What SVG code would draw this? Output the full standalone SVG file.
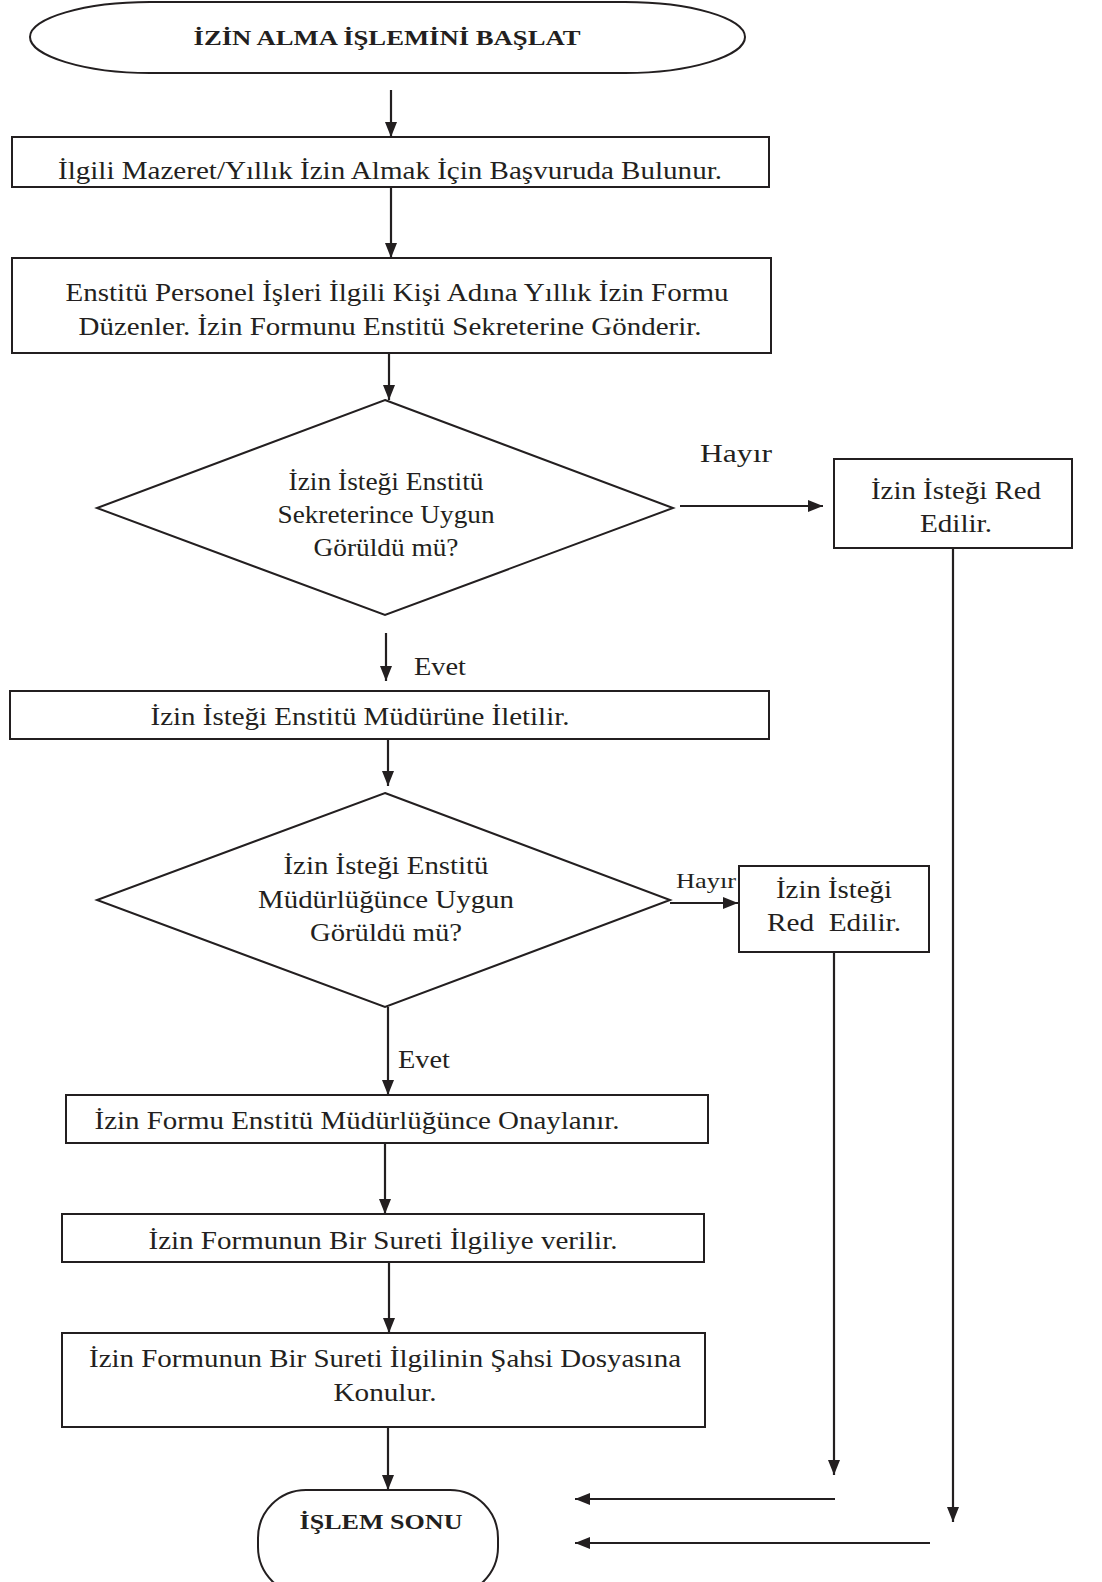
<svg xmlns="http://www.w3.org/2000/svg" width="1102" height="1582" viewBox="0 0 1102 1582">
<defs>
<marker id="ah" markerUnits="userSpaceOnUse" markerWidth="16" markerHeight="14" refX="15" refY="7" orient="auto">
<path d="M0,1 L15,7 L0,13 z" fill="#231f20"/>
</marker>
<style>
.s{fill:#fff;stroke:#231f20;stroke-width:2}
.c{fill:none;stroke:#231f20;stroke-width:2.2;marker-end:url(#ah)}
text{font-family:"Liberation Serif","Times New Roman",serif;fill:#231f20;font-size:25px;text-anchor:middle}
.b{font-weight:bold;font-size:21px}
</style>
</defs>
<rect width="1102" height="1582" fill="#fff"/>
<g id="connectors">
<line class="c" x1="391" y1="90" x2="391" y2="137"/>
<line class="c" x1="391" y1="187" x2="391" y2="258"/>
<line class="c" x1="389" y1="353" x2="389" y2="400"/>
<line class="c" x1="680" y1="506" x2="823" y2="506"/>
<line class="c" x1="953" y1="548" x2="953" y2="1522"/>
<line class="c" x1="386" y1="633" x2="386" y2="681"/>
<line class="c" x1="388" y1="739" x2="388" y2="786"/>
<line class="c" x1="670" y1="903" x2="738" y2="903"/>
<line class="c" x1="834" y1="952" x2="834" y2="1475"/>
<line class="c" x1="388" y1="1007" x2="388" y2="1095"/>
<line class="c" x1="385" y1="1143" x2="385" y2="1214"/>
<line class="c" x1="389" y1="1262" x2="389" y2="1333"/>
<line class="c" x1="388" y1="1427" x2="388" y2="1490"/>
<line class="c" x1="835" y1="1499" x2="575" y2="1499"/>
<line class="c" x1="930" y1="1543" x2="575" y2="1543"/>
<text x="736" y="462" style="font-size:26px" textLength="72" lengthAdjust="spacingAndGlyphs">Hayır</text>
<text x="440" y="675" textLength="52" lengthAdjust="spacingAndGlyphs">Evet</text>
<text x="706" y="888" style="font-size:22px" textLength="60" lengthAdjust="spacingAndGlyphs">Hayır</text>
<text x="424" y="1068" textLength="52" lengthAdjust="spacingAndGlyphs">Evet</text>
</g>
<g id="start">
<path class="s" d="M150,2 L625,2 C690,2 745,18 745,37 C745,56 690,73 625,73 L150,73 C85,73 30,56 30,37 C30,18 85,2 150,2 Z"/>
<text class="b" x="387" y="45" textLength="387" lengthAdjust="spacingAndGlyphs">İZİN ALMA İŞLEMİNİ BAŞLAT</text>
</g>
<g id="n1">
<rect class="s" x="12" y="137" width="757" height="50"/>
<text x="390" y="179" textLength="664" lengthAdjust="spacingAndGlyphs">İlgili Mazeret/Yıllık İzin Almak İçin Başvuruda Bulunur.</text>
</g>
<g id="n2">
<rect class="s" x="12" y="258" width="759" height="95"/>
<text x="397" y="301" textLength="663" lengthAdjust="spacingAndGlyphs">Enstitü Personel İşleri İlgili Kişi Adına Yıllık İzin Formu</text>
<text x="390" y="335" textLength="623" lengthAdjust="spacingAndGlyphs">Düzenler. İzin Formunu Enstitü Sekreterine Gönderir.</text>
</g>
<g id="d1">
<polygon class="s" points="385,400 673,508 385,615 97,508"/>
<text x="386" y="490" textLength="195" lengthAdjust="spacingAndGlyphs">İzin İsteği Enstitü</text>
<text x="386" y="523" textLength="217" lengthAdjust="spacingAndGlyphs">Sekreterince Uygun</text>
<text x="386" y="556" textLength="145" lengthAdjust="spacingAndGlyphs">Görüldü mü?</text>
</g>
<g id="red1">
<rect class="s" x="834" y="459" width="238" height="89"/>
<text x="956" y="499" textLength="170" lengthAdjust="spacingAndGlyphs">İzin İsteği Red</text>
<text x="956" y="532" textLength="72" lengthAdjust="spacingAndGlyphs">Edilir.</text>
</g>
<g id="n3">
<rect class="s" x="10" y="691" width="759" height="48"/>
<text x="360" y="725" textLength="419" lengthAdjust="spacingAndGlyphs">İzin İsteği Enstitü Müdürüne İletilir.</text>
</g>
<g id="d2">
<polygon class="s" points="385,793 670,900 385,1007 97,900"/>
<text x="386" y="874" textLength="205" lengthAdjust="spacingAndGlyphs">İzin İsteği Enstitü</text>
<text x="386" y="908" textLength="256" lengthAdjust="spacingAndGlyphs">Müdürlüğünce Uygun</text>
<text x="386" y="941" textLength="152" lengthAdjust="spacingAndGlyphs">Görüldü mü?</text>
</g>
<g id="red2">
<rect class="s" x="739" y="866" width="190" height="86"/>
<text x="834" y="898" textLength="116" lengthAdjust="spacingAndGlyphs">İzin İsteği</text>
<text x="834" y="931" textLength="134" lengthAdjust="spacingAndGlyphs" xml:space="preserve">Red  Edilir.</text>
</g>
<g id="n4">
<rect class="s" x="66" y="1095" width="642" height="48"/>
<text x="357" y="1129" textLength="525" lengthAdjust="spacingAndGlyphs">İzin Formu Enstitü Müdürlüğünce Onaylanır.</text>
</g>
<g id="n5">
<rect class="s" x="62" y="1214" width="642" height="48"/>
<text x="383" y="1249" textLength="469" lengthAdjust="spacingAndGlyphs">İzin Formunun Bir Sureti İlgiliye verilir.</text>
</g>
<g id="n6">
<rect class="s" x="62" y="1333" width="643" height="94"/>
<text x="385" y="1367" textLength="592" lengthAdjust="spacingAndGlyphs">İzin Formunun Bir Sureti İlgilinin Şahsi Dosyasına</text>
<text x="385" y="1401" textLength="103" lengthAdjust="spacingAndGlyphs">Konulur.</text>
</g>
<g id="end">
<rect class="s" x="258" y="1490" width="240" height="105" rx="48" ry="48"/>
<text class="b" x="381" y="1529" textLength="163" lengthAdjust="spacingAndGlyphs">İŞLEM SONU</text>
</g>
</svg>
